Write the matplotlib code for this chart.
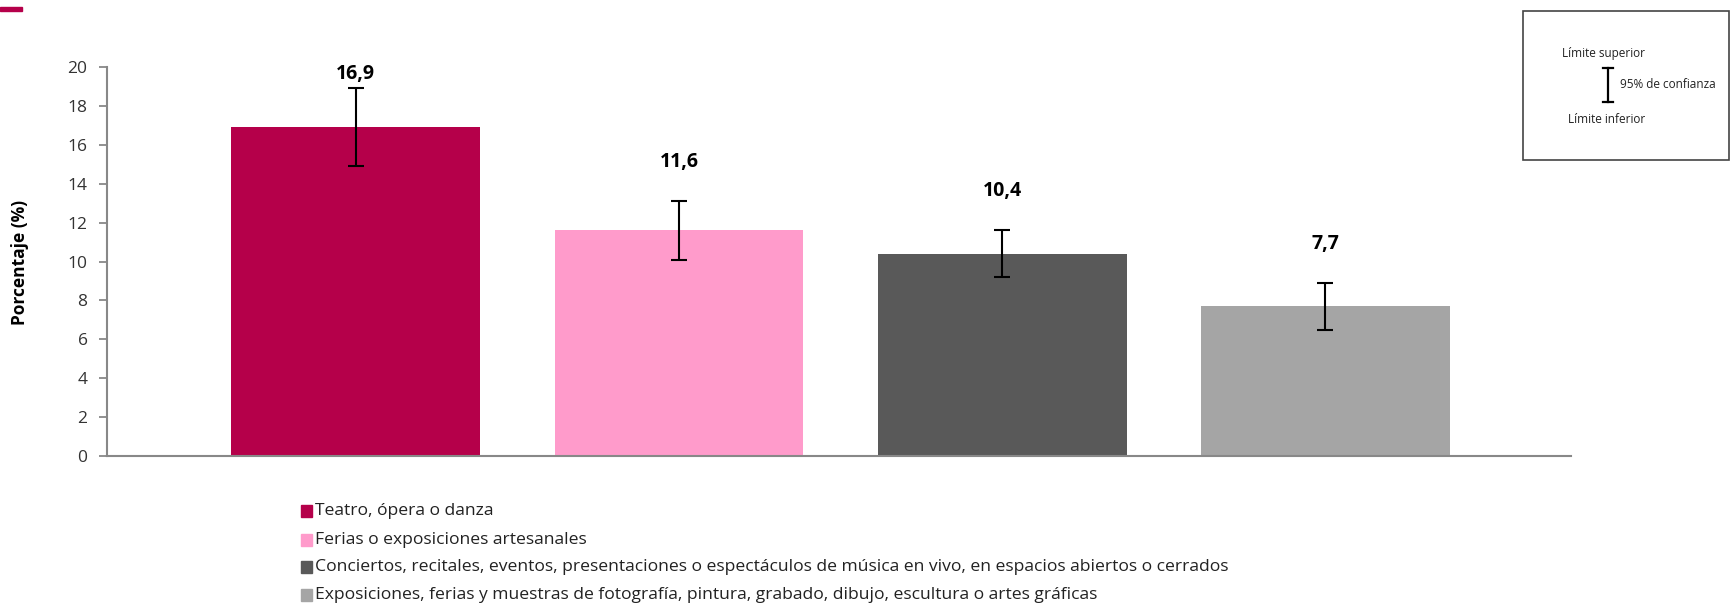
import numpy as np
import matplotlib
matplotlib.use("Agg")
import matplotlib.pyplot as plt
from matplotlib.patches import Rectangle

plt.rcParams["font.family"] = ["Open Sans", "DejaVu Sans"]

# -- data -----------------------------------------------------------------------
categories = [
    "Teatro, ópera o danza",
    "Ferias o exposiciones artesanales",
    "Conciertos, recitales, eventos, presentaciones o espectáculos de música en vivo, en espacios abiertos o cerrados",
    "Exposiciones, ferias y muestras de fotografía, pintura, grabado, dibujo, escultura o artes gráficas",
]
values = [16.9, 11.6, 10.4, 7.7]
lower = [14.9, 10.1, 9.2, 6.5]
upper = [18.9, 13.1, 11.6, 8.9]
labels = ["16,9", "11,6", "10,4", "7,7"]
colors = ["#B5004A", "#FF9BCB", "#595959", "#A5A5A5"]
yticks = [0, 2, 4, 6, 8, 10, 12, 14, 16, 18, 20]

# -- figure ---------------------------------------------------------------------
fig = plt.figure(figsize=(17.31, 6.05), dpi=100)
ax = fig.add_axes([107 / 1731, 1 - 456 / 605, (1571 - 107) / 1731, (456 - 67) / 605])

x = np.arange(len(values))
vals = np.array(values)
yerr = np.array([vals - np.array(lower), np.array(upper) - vals])
ax.bar(x, vals, width=0.77, color=colors, zorder=2)
ax.errorbar(x, vals, yerr=yerr, fmt="none", ecolor="black", elinewidth=1.5,
            capsize=6, capthick=1.5, zorder=3)

# value labels sit above the upper CI bound (capped inside the plot)
for xi, up, lab in zip(x, upper, labels):
    ax.text(xi, min(up + 2.0, 19.65), lab, ha="center", va="center",
            fontsize=14, fontweight="bold", color="black")

ax.set_xlim(-0.77, 3.76)
ax.set_ylim(0, 20)
ax.set_yticks(yticks)
ax.set_xticks([])
ax.tick_params(axis="y", labelsize=12.5, colors="#888888", labelcolor="#333333",
               length=6, width=1.3, pad=8)
for s in ["top", "right"]:
    ax.spines[s].set_visible(False)
for s in ["left", "bottom"]:
    ax.spines[s].set_color("#888888")
    ax.spines[s].set_linewidth(1.5)

fig.text(20 / 1731, 1 - 262 / 605, "Porcentaje (%)", rotation=90, ha="center",
         va="center", fontsize=12.5, fontweight="bold")

# pink mark top-left
fig.add_artist(Rectangle((0, 1 - 11 / 605), 22 / 1731, 4 / 605,
                         transform=fig.transFigure, color="#B5004A"))

# -- legend at bottom -------------------------------------------------------------
leg_y = [511, 540, 567, 595]
for cat, col, yy in zip(categories, colors, leg_y):
    fig.add_artist(Rectangle((301 / 1731, 1 - (yy + 6) / 605), 11 / 1731, 12 / 605,
                             transform=fig.transFigure, color=col))
    fig.text(315 / 1731, 1 - yy / 605, cat, ha="left", va="center",
             fontsize=12.6, color="#222222")

# -- confidence interval key box -----------------------------------------------------
fig.add_artist(Rectangle((1523 / 1731, 1 - 160 / 605), (1729 - 1523) / 1731, 149 / 605,
                         transform=fig.transFigure, fill=False, ec="#444444", lw=1.2))
fig.text(1562 / 1731, 1 - 53 / 605, "Límite superior", ha="left", va="center",
         fontsize=8.5, color="#222222")
fig.text(1568 / 1731, 1 - 119 / 605, "Límite inferior", ha="left", va="center",
         fontsize=8.5, color="#222222")
fig.text(1620 / 1731, 1 - 85 / 605, "95% de confianza", ha="left", va="center",
         fontsize=8.5, color="#222222")
bx = 1608 / 1731
fig.add_artist(plt.Line2D([bx, bx], [1 - 68 / 605, 1 - 102 / 605],
                          transform=fig.transFigure, color="black", lw=1.6))
for yy in [68, 102]:
    fig.add_artist(plt.Line2D([bx - 5 / 1731, bx + 5 / 1731], [1 - yy / 605] * 2,
                              transform=fig.transFigure, color="black", lw=1.6))

fig.savefig("out.png", dpi=100)
